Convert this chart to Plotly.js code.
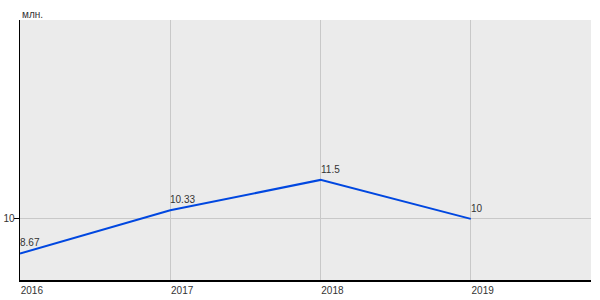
<!DOCTYPE html>
<html><head><meta charset="utf-8">
<script src="https://cdn.plot.ly/plotly-3.0.1.min.js"></script>
<style>body{margin:0;padding:0;}#chart{width:600px;height:300px;}</style>
</head><body><div id="chart"></div>
<script>
const years = [2016, 2017, 2018, 2019];
const values = [8.67, 10.33, 11.5, 10];
const valueLabels = ["8.67", "10.33", "11.5", "10"];
const yTicks = [10];
const unitLabel = "млн.";

const FONT = "Liberation Sans, Arial, sans-serif";
const trace = {
  x: years, y: values, type: "scatter", mode: "lines",
  line: {color: "#0047e0", width: 2},
  cliponaxis: false, hoverinfo: "none"
};
const pointLabels = years.map((yr, i) => ({
  text: valueLabels[i], x: yr, y: values[i], xref: "x", yref: "y",
  xanchor: "left", yanchor: "bottom", xshift: -2, yshift: 3,
  showarrow: false, font: {family: FONT, size: 10, color: "#333"}
}));
const layout = {
  width: 600, height: 300,
  margin: {l: 20, r: 9, t: 20, b: 20},
  paper_bgcolor: "#ffffff", plot_bgcolor: "#ebebeb",
  showlegend: false,
  font: {family: FONT, size: 10, color: "#333"},
  xaxis: {
    range: [2016, 2019.8], tickvals: years, ticktext: years.map(String),
    showgrid: true, gridcolor: "#c8c8c8", gridwidth: 1,
    showline: true, linecolor: "#000", linewidth: 1.5,
    ticks: "", ticklabelposition: "outside right", zeroline: false,
    tickfont: {size: 10, color: "#333"}
  },
  yaxis: {
    range: [7.65, 17.65], tickvals: yTicks, ticktext: yTicks.map(String),
    showgrid: true, gridcolor: "#c8c8c8", gridwidth: 1,
    showline: true, linecolor: "#000", linewidth: 1.5,
    ticks: "outside", ticklen: 5, tickcolor: "#000", zeroline: false,
    ticklabelstandoff: -3,
    tickfont: {size: 10, color: "#333"}
  },
  annotations: [{
    text: unitLabel, xref: "paper", yref: "paper", x: 0, y: 1,
    xanchor: "left", yanchor: "bottom", yshift: -2, showarrow: false,
    font: {family: FONT, size: 10, color: "#333"}
  }].concat(pointLabels)
};
Plotly.newPlot("chart", [trace], layout, {staticPlot: true});
</script></body></html>
